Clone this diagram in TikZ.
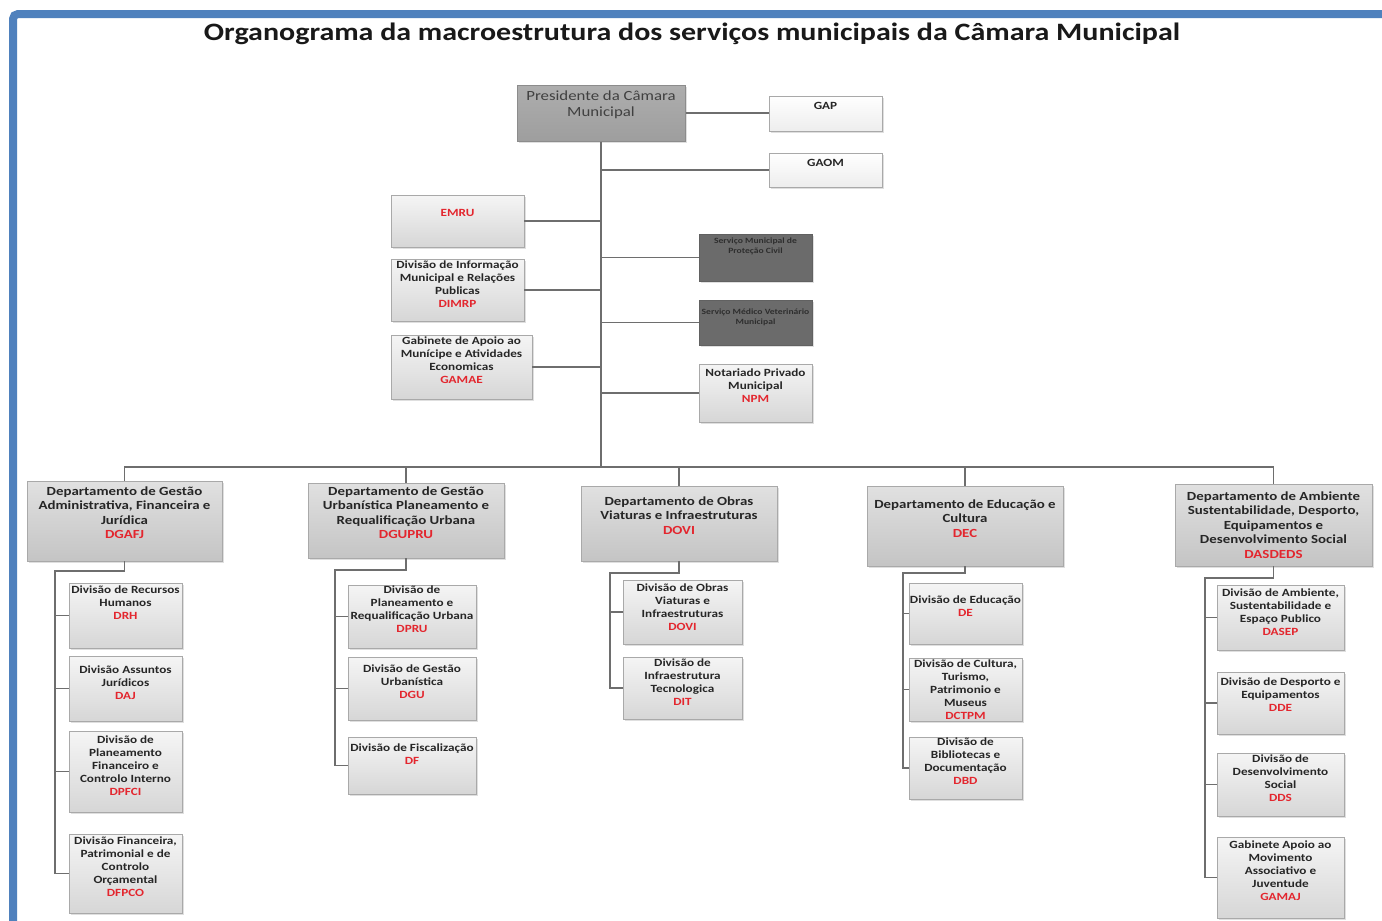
\documentclass[tikz,border=0pt]{standalone}
\usepackage{fontspec}
\setmainfont{Carlito}[FakeStretch=1.2]
\usetikzlibrary{shadows}
\definecolor{frameblue}{HTML}{4F81BD}
\definecolor{codered}{HTML}{E3262E}
\definecolor{linegray}{HTML}{6E6E6E}
\definecolor{boxborder}{HTML}{A9A9A9}
\definecolor{txtdark}{HTML}{262626}
\newcommand\cd[1]{\textcolor{codered}{#1}}
\newcommand\obox[9]{%
  \node[#6, minimum width={(#4-#2)*1pt}, minimum height={(#5-#3)*1pt}, inner sep=0pt] (#1) at ({(#2+#4)/2},{(#3+#5)/2}) {};
  \node[#7, anchor=north] (#1-t) at ([yshift=-#8pt]#1.north) {#9};}
\tikzset{
  shadowed/.style={drop shadow={opacity=0.25, shadow xshift=2pt, shadow yshift=-2pt}},
  subbox/.style={draw=boxborder, line width=0.8pt, top color=white!96!black, bottom color=white!84!black, shadowed},
  deptbox/.style={draw=boxborder, line width=0.8pt, top color=white!88!black, bottom color=white!77!black, shadowed},
  presbox/.style={draw=white!55!black, line width=1pt, top color=white!68!black, bottom color=white!62!black, shadowed},
  darkbox/.style={draw=white!38!black, line width=0.8pt, fill=white!42!black, shadowed},
  lightbox/.style={draw=boxborder, line width=0.8pt, top color=white, bottom color=white!93!black, shadowed},
  txt/.style={inner sep=0pt, align=center, text=txtdark, font=\bfseries\fontsize{11}{13}\selectfont},
  depttxt/.style={txt, font=\bfseries\fontsize{12.4}{14.5}\selectfont},
  prestxt/.style={inner sep=0pt, align=center, text=white!25!black, font=\fontsize{14}{16}\selectfont},
  darktxt/.style={inner sep=0pt, align=center, text=white!18!black, font=\bfseries\fontsize{8}{10}\selectfont},
  conn/.style={draw=linegray, line width=1.6pt},
}
\begin{document}
\begin{tikzpicture}[x=1pt, y=-1pt]
\fill[white] (0,0) rectangle (1382,921);
\useasboundingbox (0,0) rectangle (1382,921);
\draw[frameblue, line width=8pt, rounded corners=5pt] (13,930) -- (13,14) -- (1390,14);
\node[font=\bfseries\fontsize{25}{30}\selectfont, text=black!90, inner sep=0pt] (title) at (692,34) {Organograma da macroestrutura dos serviços municipais da Câmara Municipal};

% top level
\obox{pres}{517}{85}{685}{141}{presbox}{prestxt}{6}{Presidente da Câmara\\Municipal}
\obox{gap}{769}{96}{882}{131}{lightbox}{txt}{6}{GAP}
\obox{gaom}{769}{153}{882}{187}{lightbox}{txt}{6}{GAOM}
\obox{emru}{391}{195}{524}{247}{subbox}{txt}{15}{\cd{EMRU}}
\obox{dimrp}{391}{259}{524}{321}{subbox}{txt}{2}{Divisão de Informação\\Municipal e Relações\\Publicas\\\cd{DIMRP}}
\obox{gamae}{391}{335}{532}{399}{subbox}{txt}{2}{Gabinete de Apoio ao\\Munícipe e Atividades\\Economicas\\\cd{GAMAE}}
\obox{prot}{699}{234}{812}{281}{darkbox}{darktxt}{4}{Serviço Municipal de\\Proteção Civil}
\obox{vet}{699}{300}{812}{345}{darkbox}{darktxt}{9}{Serviço Médico Veterinário\\Municipal}
\obox{npm}{699}{364}{812}{422}{subbox}{txt}{5}{Notariado Privado\\Municipal\\\cd{NPM}}

% departments
\obox{dgafj}{27}{481}{222}{561}{deptbox}{depttxt}{5.5}{Departamento de Gestão\\Administrativa, Financeira e\\Jurídica\\\cd{DGAFJ}}
\obox{dgupru}{308}{483}{504}{558}{deptbox}{depttxt}{3.5}{Departamento de Gestão\\Urbanística Planeamento e\\Requalificação Urbana\\\cd{DGUPRU}}
\obox{dovi}{581}{486}{777}{561}{deptbox}{depttxt}{10.5}{Departamento de Obras\\Viaturas e Infraestruturas\\\cd{DOVI}}
\obox{dec}{867}{486}{1063}{566}{deptbox}{depttxt}{13.5}{Departamento de Educação e\\Cultura\\\cd{DEC}}
\obox{dasdeds}{1175}{484}{1372}{566}{deptbox}{depttxt}{7.5}{Departamento de Ambiente\\Sustentabilidade, Desporto,\\Equipamentos e\\Desenvolvimento Social\\\cd{DASDEDS}}

% DGAFJ children
\obox{drh}{69}{583}{182}{648}{subbox}{txt}{3}{Divisão de Recursos\\Humanos\\\cd{DRH}}
\obox{daj}{69}{656}{182}{721}{subbox}{txt}{10}{Divisão Assuntos\\Jurídicos\\\cd{DAJ}}
\obox{dpfci}{69}{731}{182}{812}{subbox}{txt}{5}{Divisão de\\Planeamento\\Financeiro e\\Controlo Interno\\\cd{DPFCI}}
\obox{dfpco}{69}{834}{182}{913}{subbox}{txt}{3}{Divisão Financeira,\\Patrimonial e de\\Controlo\\Orçamental\\\cd{DFPCO}}
% DGUPRU children
\obox{dpru}{348}{585}{476}{648}{subbox}{txt}{1}{Divisão de\\Planeamento e\\Requalificação Urbana\\\cd{DPRU}}
\obox{dgu}{348}{657}{476}{720}{subbox}{txt}{8}{Divisão de Gestão\\Urbanística\\\cd{DGU}}
\obox{df}{348}{737}{476}{794}{subbox}{txt}{7}{Divisão de Fiscalização\\\cd{DF}}
% DOVI children
\obox{dovic}{623}{580}{742}{644}{subbox}{txt}{4}{Divisão de Obras\\Viaturas e\\Infraestruturas\\\cd{DOVI}}
\obox{dit}{623}{657}{742}{719}{subbox}{txt}{2}{Divisão de\\Infraestrutura\\Tecnologica\\\cd{DIT}}
% DEC children
\obox{de}{909}{583}{1022}{644}{subbox}{txt}{13}{Divisão de Educação\\\cd{DE}}
\obox{dctpm}{909}{658}{1022}{721}{subbox}{txt}{2}{Divisão de Cultura,\\Turismo,\\Patrimonio e\\Museus\\\cd{DCTPM}}
\obox{dbd}{909}{737}{1022}{799}{subbox}{txt}{1}{Divisão de\\Bibliotecas e\\Documentação\\\cd{DBD}}
% DASDEDS children
\obox{dasep}{1217}{585}{1344}{650}{subbox}{txt}{4}{Divisão de Ambiente,\\Sustentabilidade e\\Espaço Publico\\\cd{DASEP}}
\obox{dde}{1217}{672}{1344}{734}{subbox}{txt}{6}{Divisão de Desporto e\\Equipamentos\\\cd{DDE}}
\obox{dds}{1217}{753}{1344}{816}{subbox}{txt}{2}{Divisão de\\Desenvolvimento\\Social\\\cd{DDS}}
\obox{gamaj}{1217}{837}{1344}{918}{subbox}{txt}{4}{Gabinete Apoio ao\\Movimento\\Associativo e\\Juventude\\\cd{GAMAJ}}

% connectors: top
\coordinate (bus) at (601,467);
\draw[conn] (pres.south) -- (bus);
\draw[conn] (pres.east) -- (gap.west |- pres.east);
\draw[conn] (pres.south |- gaom.west) -- (gaom.west);
\draw[conn] (emru.east) -- (pres.south |- emru.east);
\draw[conn] (dimrp.east) -- (pres.south |- dimrp.east);
\draw[conn] (gamae.east) -- (pres.south |- gamae.east);
\draw[conn] (pres.south |- prot.west) -- (prot.west);
\draw[conn] (pres.south |- vet.west) -- (vet.west);
\draw[conn] (pres.south |- npm.west) -- (npm.west);
% bus
\draw[conn] (dgafj.north) |- (bus) -| (dasdeds.north);
\draw[conn] (dgupru.north) -- (dgupru.north |- bus);
\draw[conn] (dovi.north) -- (dovi.north |- bus);
\draw[conn] (dec.north) -- (dec.north |- bus);
% sub trunks
\coordinate (t1) at (55,571);
\coordinate (t2) at (335,570);
\coordinate (t3) at (610,573);
\coordinate (t4) at (903,573);
\coordinate (t5) at (1205,578);
\draw[conn] (dgafj.south) |- (t1) |- (dfpco.west);
\draw[conn] (t1 |- drh.west) -- (drh.west);
\draw[conn] (t1 |- daj.west) -- (daj.west);
\draw[conn] (t1 |- dpfci.west) -- (dpfci.west);
\draw[conn] (dgupru.south) |- (t2) |- (df.west);
\draw[conn] (t2 |- dpru.west) -- (dpru.west);
\draw[conn] (t2 |- dgu.west) -- (dgu.west);
\draw[conn] (dovi.south) |- (t3) |- (dit.west);
\draw[conn] (t3 |- dovic.west) -- (dovic.west);
\draw[conn] (dec.south) |- (t4) |- (dbd.west);
\draw[conn] (t4 |- de.west) -- (de.west);
\draw[conn] (t4 |- dctpm.west) -- (dctpm.west);
\draw[conn] (dasdeds.south) |- (t5) |- (gamaj.west);
\draw[conn] (t5 |- dasep.west) -- (dasep.west);
\draw[conn] (t5 |- dde.west) -- (dde.west);
\draw[conn] (t5 |- dds.west) -- (dds.west);
\end{tikzpicture}
\end{document}
